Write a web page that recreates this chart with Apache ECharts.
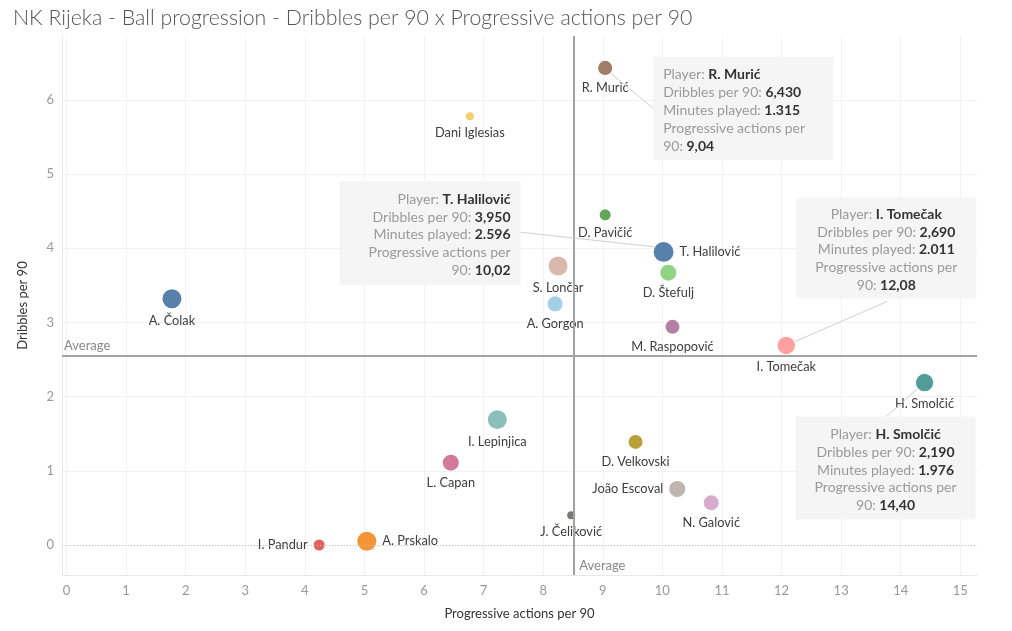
<!DOCTYPE html>
<html>
<head>
<meta charset="utf-8">
<script src="https://cdn.jsdelivr.net/npm/echarts@6/dist/echarts.min.js"></script>
<style>
html,body{margin:0;padding:0;background:#fff;}
#chart{width:1012px;height:631px;}
</style>
</head>
<body>
<div id="chart"></div>
<script>
// ---------------- DATA ----------------
const players = ['R. Murić','Dani Iglesias','D. Pavičić','T. Halilović','D. Štefulj','S. Lončar','A. Gorgon','A. Čolak','M. Raspopović','I. Tomečak','H. Smolčić','I. Lepinjica','D. Velkovski','L. Capan','João Escoval','N. Galović','J. Čeliković','I. Pandur','A. Prskalo'];
const progressive = [9.04, 6.77, 9.04, 10.02, 10.10, 8.25, 8.20, 1.77, 10.17, 12.08, 14.40, 7.23, 9.55, 6.45, 10.25, 10.82, 8.47, 4.24, 5.04];
const dribbles = [6.43, 5.78, 4.45, 3.95, 3.67, 3.76, 3.25, 3.32, 2.94, 2.69, 2.19, 1.69, 1.39, 1.11, 0.755, 0.57, 0.40, 0.00, 0.05];
const minutes = [1315, 420, 800, 2596, 1680, 2370, 1480, 2370, 1290, 2011, 1976, 2370, 1290, 1680, 1680, 1480, 420, 800, 2370];
const xTicks = [0,1,2,3,4,5,6,7,8,9,10,11,12,13,14,15];
const yTicks = [0,1,2,3,4,5,6];
const annotated = ['R. Murić','T. Halilović','I. Tomečak','H. Smolčić'];

// ---------------- STYLES ----------------
const colorOf = {
  'R. Murić':'#9d7660','Dani Iglesias':'#f1ce63','D. Pavičić':'#59a14f','T. Halilović':'#4e79a7',
  'D. Štefulj':'#8cd17d','S. Lončar':'#d7b5a6','A. Gorgon':'#a0cbe8','A. Čolak':'#4e79a7',
  'M. Raspopović':'#b07aa1','I. Tomečak':'#ff9d9a','H. Smolčić':'#499894','I. Lepinjica':'#86bcb6',
  'D. Velkovski':'#b6992d','L. Capan':'#d37295','João Escoval':'#bab0ac','N. Galović':'#d4a6c8',
  'J. Čeliković':'#79706e','I. Pandur':'#e15759','A. Prskalo':'#f28e2b'
};
const labelPosOf = {'T. Halilović':'right','A. Prskalo':'right','I. Pandur':'left','João Escoval':'left'};
const annStyle = {
  'R. Murić':    {box:[48,-11,180,103], align:'left',  line:[[5,5],[50,42]]},
  'T. Halilović':{box:[-324,-71,181,104], align:'right', line:[[-146,-20],[-8,-5]]},
  'I. Tomečak':  {box:[10,-148,180,101], align:'center', line:[[101,-44],[9,-4]]},
  'H. Smolčić':  {box:[-129,34,180,103], align:'center', line:[[-8,7],[-38,34]]}
};
const FONT = 'Lato, "Noto Sans", sans-serif';

const mean = a => a.reduce((s,v)=>s+v,0)/a.length;
const avgX = mean(progressive), avgY = mean(dribbles);

const data = players.map((p,i)=>({
  name:p,
  value:[progressive[i], dribbles[i], minutes[i]],
  itemStyle:{color:colorOf[p]},
  label:{position:labelPosOf[p]||'bottom'}
}));

const chart = echarts.init(document.getElementById('chart'), null, {renderer:'canvas'});
const option = {
  animation:false,
  backgroundColor:'#fff',
  title:{
    text:'NK Rijeka - Ball progression - Dribbles per 90 x Progressive actions per 90',
    left:8, top:3,
    textStyle:{fontFamily:FONT, fontSize:21.3, fontWeight:300, color:'#555'}
  },
  grid:{left:62, right:35, top:36, bottom:56},
  xAxis:{
    type:'value', min:-0.075, max:15.28,
    name:'Progressive actions per 90', nameLocation:'middle', nameGap:32,
    nameTextStyle:{fontFamily:FONT, fontSize:13, color:'#333'},
    axisLine:{show:true, onZero:false, lineStyle:{color:'#e8e8e8', width:1}},
    axisTick:{show:false, customValues:xTicks},
    axisLabel:{customValues:xTicks, color:'#999', fontFamily:FONT, fontSize:13, margin:9},
    splitLine:{show:true, lineStyle:{color:'#f2f2f2', width:1}}
  },
  yAxis:{
    type:'value', min:-0.404, max:6.86,
    name:'Dribbles per 90', nameLocation:'middle', nameGap:33,
    nameTextStyle:{fontFamily:FONT, fontSize:13, color:'#333'},
    axisLine:{show:true, onZero:false, lineStyle:{color:'#e8e8e8', width:1}},
    axisTick:{show:false, customValues:yTicks},
    axisLabel:{customValues:yTicks, color:'#999', fontFamily:FONT, fontSize:13, margin:8},
    splitLine:{show:true, lineStyle:{color:'#f2f2f2', width:1}}
  },
  series:[{
    type:'scatter',
    data:data,
    symbolSize: v => 0.39*Math.sqrt(v[2]),
    itemStyle:{opacity:0.95},
    label:{show:true, formatter:'{b}', distance:6, fontFamily:FONT, fontSize:12.8, color:'#333'},
    emphasis:{disabled:true},
    markLine:{
      silent:true, symbol:'none', animation:false,
      data:[
        {yAxis:0, lineStyle:{color:'#c8c8c8', type:[1,2], width:1}, label:{show:false}},
        {yAxis:avgY, lineStyle:{color:'#a3a3a3', type:'solid', width:2},
          label:{show:true, formatter:'Average', position:'insideStartTop', distance:[2,3], color:'#888', fontFamily:FONT, fontSize:13}},
        {xAxis:avgX, lineStyle:{color:'#a3a3a3', type:'solid', width:2}, label:{show:false}}
      ]
    },
    z:3
  }]
};
chart.setOption(option);

// ---------- annotations anchored to data points ----------
function fmtNum(v, dec){ return v.toFixed(dec).replace('.',','); }
function fmtInt(v){ return String(v).replace(/\B(?=(\d{3})+(?!\d))/g,'.'); }
const graphics = [];
const bl = chart.convertToPixel({seriesIndex:0}, [avgX, -0.404]);
graphics.push({type:'text', x:bl[0]+5, y:bl[1]-9, z:10,
  style:{text:'Average', fill:'#888', font:'13px '+FONT, textVerticalAlign:'middle'}});
annotated.forEach(name=>{
  const i = players.indexOf(name);
  const s = annStyle[name];
  const p = chart.convertToPixel({seriesIndex:0}, [progressive[i], dribbles[i]]);
  const bx = p[0]+s.box[0], by = p[1]+s.box[1], bw = s.box[2], bh = s.box[3];
  graphics.push({type:'line', z:5, shape:{x1:p[0]+s.line[0][0], y1:p[1]+s.line[0][1], x2:p[0]+s.line[1][0], y2:p[1]+s.line[1][1]},
    style:{stroke:'#d0d0d0', lineWidth:1}});
  graphics.push({type:'rect', z:6, shape:{x:bx, y:by, width:bw, height:bh}, style:{fill:'rgba(244,244,244,0.92)'}});
  const lines = [
    '{l|Player: }{v|'+name+'}',
    '{l|Dribbles per 90: }{v|'+fmtNum(dribbles[i],3)+'}',
    '{l|Minutes played: }{v|'+fmtInt(minutes[i])+'}',
    '{l|Progressive actions per}',
    '{l|90: }{v|'+fmtNum(progressive[i],2)+'}'
  ];
  let tx = s.align==='left' ? bx+10 : (s.align==='right' ? bx+bw-10 : bx+bw/2);
  graphics.push({type:'text', z:7, x:tx, y:by+bh/2+2,
    style:{
      text:lines.join('\n'), align:s.align, verticalAlign:'middle', lineHeight:17.8,
      rich:{
        l:{fill:'#9a9a9a', fontFamily:FONT, fontSize:14, lineHeight:17.8},
        v:{fill:'#333', fontFamily:FONT, fontSize:14, fontWeight:'bold', lineHeight:17.8}
      }
    }});
});
chart.setOption({graphic:graphics});
</script>
</body>
</html>
